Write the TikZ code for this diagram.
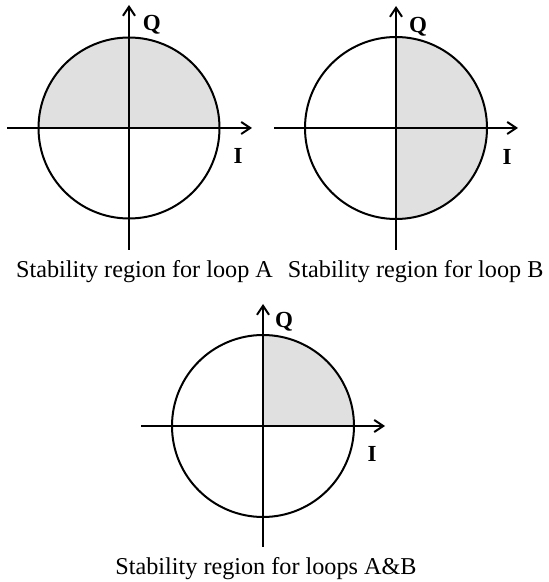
\documentclass[tikz,border=0pt]{standalone}
\usepackage{fontspec}
\setmainfont{Liberation Serif}
\usetikzlibrary{arrows.meta}
\begin{document}
\begin{tikzpicture}[x=1pt,y=1pt,
  axis/.style={line width=2pt,-{Straight Barb[length=9pt,width=12pt,line width=2pt]}},
  ring/.style={line width=2pt},
  region/.style={fill=black!12},
  lbl/.style={anchor=base,inner sep=0pt,font=\fontsize{23}{26}\selectfont\bfseries},
  captext/.style={anchor=base,inner sep=0pt,font=\fontsize{24.2}{28}\selectfont}]
\useasboundingbox (0,0) rectangle (549,582);
% ---------- Diagram A ----------
\coordinate (ca) at (129,454);
\coordinate (axl) at (7,454);
\coordinate (axr) at (252,454);
\coordinate (ayb) at (129,332);
\coordinate (ayt) at (129,577);
\fill[region] (ca) ++(-90.5,0) arc[start angle=180,end angle=0,radius=90.5] -- cycle;
\draw[ring] (ca) circle[radius=90.5];
\draw[axis] (axl) -- (axr);
\draw[axis] (ayb) -- (ayt);
\node[lbl] (qa) at (151.7,551.5) {Q};
\node[lbl] (ia) at (238,418) {I};
\node[captext] (capa) at (144.5,304) {Stability region for loop A};
% ---------- Diagram B ----------
\coordinate (cb) at (396,454);
\coordinate (bxl) at (274,454);
\coordinate (bxr) at (518,454);
\coordinate (byb) at (396,332);
\coordinate (byt) at (396,576);
\fill[region] (cb) ++(0,91) arc[start angle=90,end angle=-90,radius=91] -- cycle;
\draw[ring] (cb) circle[radius=91];
\draw[axis] (bxl) -- (bxr);
\draw[axis] (byb) -- (byt);
\node[lbl] (qb) at (418,549) {Q};
\node[lbl] (ib) at (507,417) {I};
\node[captext] (capb) at (415.7,304) {Stability region for loop B};
% ---------- Diagram C ----------
\coordinate (cc) at (263,156);
\coordinate (cxl) at (141,156);
\coordinate (cxr) at (385,156);
\coordinate (cyb) at (263,35);
\coordinate (cyt) at (263,278);
\fill[region] (cc) -- ++(91,0) arc[start angle=0,end angle=90,radius=91] -- cycle;
\draw[ring] (cc) circle[radius=91];
\draw[axis] (cxl) -- (cxr);
\draw[axis] (cyb) -- (cyt);
\node[lbl] (qc) at (284,254) {Q};
\node[lbl] (ic) at (372,120) {I};
\node[captext] (capc) at (266,7) {Stability region for loops A\&B};
\end{tikzpicture}
\end{document}
